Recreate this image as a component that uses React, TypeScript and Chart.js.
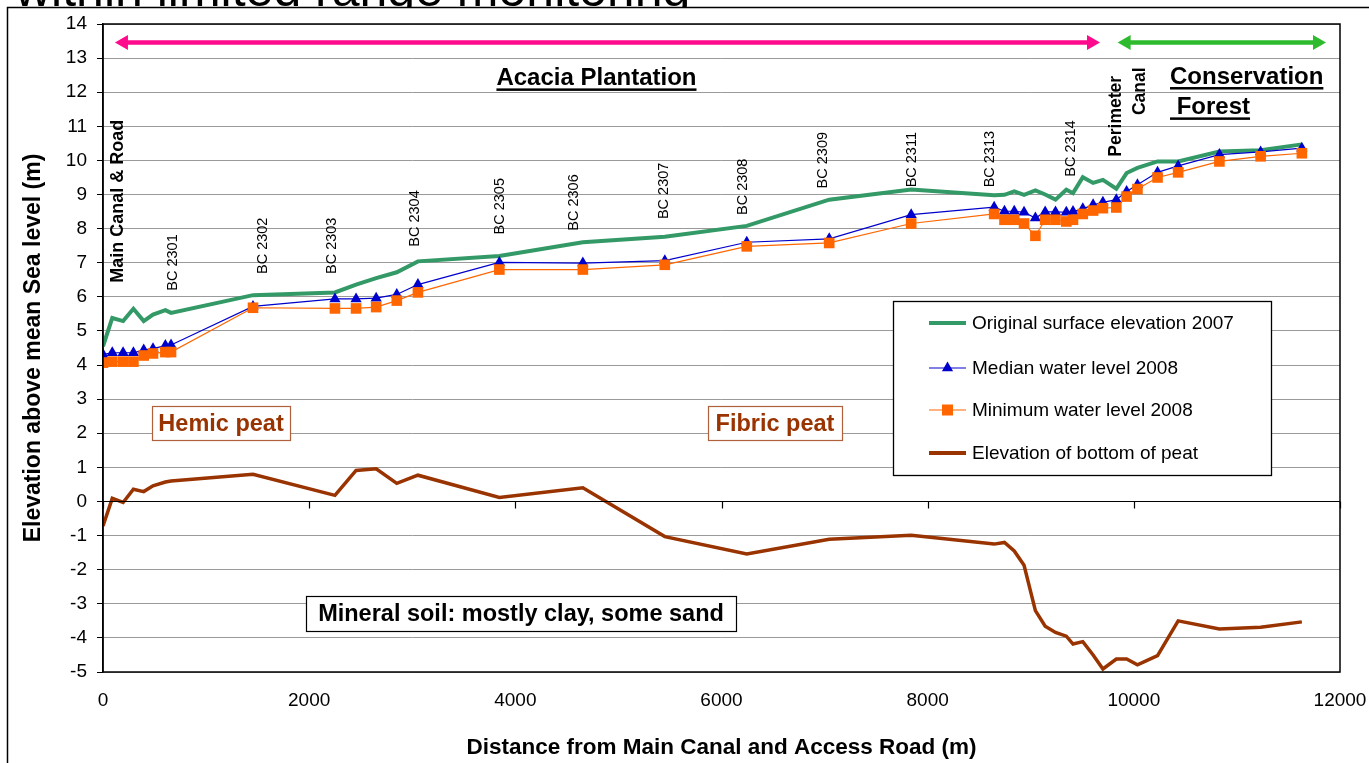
import React, { useEffect, useRef } from 'react';
import { Chart, registerables } from 'chart.js';

Chart.register(...registerables);

const FONT = '"Liberation Sans", Arial, Helvetica, sans-serif';

// Distance along transect (m)
const distance = [0, 90, 195, 295, 395, 485, 605, 660, 1455, 2250, 2455, 2650, 2850, 3055, 3845, 4655, 5450, 6245, 7045, 7840, 8645, 8745, 8840, 8935, 9045, 9140, 9240, 9345, 9410, 9505, 9605, 9700, 9830, 9930, 10035, 10230, 10430, 10830, 11230, 11630];
const surface2007 = [4.55, 5.38, 5.29, 5.65, 5.29, 5.48, 5.61, 5.53, 6.05, 6.13, 6.36, 6.55, 6.72, 7.04, 7.2, 7.6, 7.76, 8.08, 8.85, 9.15, 8.98, 8.99, 9.09, 8.99, 9.12, 9.0, 8.85, 9.14, 9.04, 9.51, 9.34, 9.43, 9.17, 9.63, 9.78, 9.97, 9.97, 10.26, 10.3, 10.47];
const medianWater2008 = [4.31, 4.36, 4.36, 4.36, 4.44, 4.48, 4.57, 4.59, 5.72, 5.94, 5.94, 5.96, 6.07, 6.36, 7.01, 6.99, 7.06, 7.6, 7.7, 8.41, 8.63, 8.51, 8.51, 8.48, 8.31, 8.49, 8.49, 8.48, 8.5, 8.58, 8.7, 8.77, 8.85, 9.09, 9.29, 9.65, 9.84, 10.17, 10.25, 10.36];
const minimumWater2008 = [4.07, 4.1, 4.1, 4.1, 4.28, 4.34, 4.38, 4.38, 5.68, 5.66, 5.66, 5.7, 5.89, 6.13, 6.8, 6.8, 6.94, 7.48, 7.58, 8.15, 8.43, 8.26, 8.26, 8.15, 7.79, 8.26, 8.26, 8.21, 8.26, 8.43, 8.53, 8.6, 8.62, 8.94, 9.16, 9.5, 9.65, 9.97, 10.12, 10.21];
const peatBottom = [-0.72, 0.09, -0.03, 0.36, 0.29, 0.46, 0.57, 0.6, 0.8, 0.18, 0.91, 0.96, 0.53, 0.77, 0.12, 0.4, -1.03, -1.54, -1.11, -0.99, -1.25, -1.2, -1.45, -1.87, -3.2, -3.66, -3.84, -3.95, -4.18, -4.11, -4.5, -4.91, -4.62, -4.62, -4.79, -4.52, -3.5, -3.74, -3.69, -3.53];

const seriesNames = ['Original surface elevation 2007', 'Median water level 2008', 'Minimum water level 2008', 'Elevation of bottom of peat'];

// Axis ranges
const yMin = -5;
const yMax = 14;
const xMax = 12000;

// Well labels
const wellLabels = ['BC 2301', 'BC 2302', 'BC 2303', 'BC 2304', 'BC 2305', 'BC 2306', 'BC 2307', 'BC 2308', 'BC 2309', 'BC 2311', 'BC 2313', 'BC 2314'];
const wellLabelX = [682, 1552, 2226, 3027, 3851, 4569, 5442, 6212, 6988, 7851, 8605, 9388];
const wellLabelY = [6.18, 6.67, 6.67, 7.47, 7.83, 7.94, 8.28, 8.4, 9.18, 9.21, 9.21, 9.52];

const COLORS = {
  green: '#339966',
  blue: '#0000cc',
  orange: '#ff6600',
  brown: '#993300',
  pink: '#ff0a8c',
  arrowGreen: '#2dbb2d',
};

function toPoints(ys: number[]) {
  return distance.map((d, i) => ({ x: d, y: ys[i] }));
}

function arrow(ctx: CanvasRenderingContext2D, x1: number, x2: number, y: number, color: string) {
  const head = 13;
  const half = 7.5;
  ctx.save();
  ctx.strokeStyle = color;
  ctx.fillStyle = color;
  ctx.lineWidth = 4.5;
  ctx.beginPath();
  ctx.moveTo(x1 + head - 1, y);
  ctx.lineTo(x2 - head + 1, y);
  ctx.stroke();
  ctx.beginPath();
  ctx.moveTo(x1, y);
  ctx.lineTo(x1 + head, y - half);
  ctx.lineTo(x1 + head, y + half);
  ctx.closePath();
  ctx.fill();
  ctx.beginPath();
  ctx.moveTo(x2, y);
  ctx.lineTo(x2 - head, y - half);
  ctx.lineTo(x2 - head, y + half);
  ctx.closePath();
  ctx.fill();
  ctx.restore();
}

function vText(ctx: CanvasRenderingContext2D, text: string, x: number, y: number, font: string) {
  ctx.save();
  ctx.translate(x, y);
  ctx.rotate(-Math.PI / 2);
  ctx.font = font;
  ctx.fillStyle = '#000';
  ctx.textAlign = 'left';
  ctx.textBaseline = 'middle';
  ctx.fillText(text, 0, 0);
  ctx.restore();
}

function underlined(ctx: CanvasRenderingContext2D, text: string, x: number, y: number, align: CanvasTextAlign) {
  ctx.save();
  ctx.font = `bold 24px ${FONT}`;
  ctx.fillStyle = '#000';
  ctx.textAlign = align;
  ctx.textBaseline = 'alphabetic';
  ctx.fillText(text, x, y);
  const w = ctx.measureText(text).width;
  const left = align === 'center' ? x - w / 2 : x;
  ctx.fillRect(left, y + 3, w, 2.5);
  ctx.restore();
}

function boxed(ctx: CanvasRenderingContext2D, text: string, cx: number, cy: number, w: number, h: number, color: string, border: string, size: number) {
  ctx.save();
  ctx.fillStyle = '#fff';
  ctx.fillRect(cx - w / 2, cy - h / 2, w, h);
  ctx.strokeStyle = border;
  ctx.lineWidth = 1.2;
  ctx.strokeRect(Math.round(cx - w / 2) + 0.5, Math.round(cy - h / 2) + 0.5, w, h);
  ctx.font = `bold ${size}px ${FONT}`;
  ctx.fillStyle = color;
  ctx.textAlign = 'center';
  ctx.textBaseline = 'middle';
  ctx.fillText(text, cx, cy + 1);
  ctx.restore();
}

const annotationPlugin = {
  id: 'peatAnnotations',
  beforeDraw(chart: any) {
    const ctx: CanvasRenderingContext2D = chart.ctx;
    ctx.save();
    ctx.fillStyle = '#fff';
    ctx.fillRect(0, 0, chart.width, chart.height);
    ctx.strokeStyle = '#000';
    ctx.lineWidth = 1.5;
    ctx.beginPath();
    ctx.moveTo(7.5, chart.height);
    ctx.lineTo(7.5, 7.5);
    ctx.lineTo(chart.width, 7.5);
    ctx.stroke();
    ctx.restore();
  },
  afterDatasetsDraw(chart: any) {
    const ctx: CanvasRenderingContext2D = chart.ctx;
    const xs = chart.scales.x;
    const ys = chart.scales.y;
    const X = (v: number) => xs.getPixelForValue(v);
    const Y = (v: number) => ys.getPixelForValue(v);
    const area = chart.chartArea;

    // x axis line at zero with tick marks
    ctx.save();
    ctx.strokeStyle = '#000';
    ctx.lineWidth = 1.2;
    ctx.beginPath();
    ctx.moveTo(area.left, Math.round(Y(0)) + 0.5);
    ctx.lineTo(area.right, Math.round(Y(0)) + 0.5);
    for (let v = 0; v <= xMax; v += 2000) {
      const px = Math.round(X(v)) + 0.5;
      ctx.moveTo(px, Y(0));
      ctx.lineTo(px, Y(0) + 7);
    }
    ctx.stroke();
    // plot frame
    ctx.lineWidth = 1.5;
    ctx.strokeRect(area.left, area.top, area.right - area.left, area.bottom - area.top);
    ctx.restore();

    // arrows
    arrow(ctx, X(116), X(9672), Y(13.46), COLORS.pink);
    arrow(ctx, X(9843), X(11864), Y(13.46), COLORS.arrowGreen);

    // region titles
    underlined(ctx, 'Acacia Plantation', X(4787), Y(12.2), 'center');
    underlined(ctx, 'Conservation', X(10351), Y(12.24), 'left');
    underlined(ctx, ' Forest', X(10351), Y(11.35), 'left');

    // vertical labels
    vText(ctx, 'Main Canal & Road', X(141), Y(6.41), `bold 18px ${FONT}`);
    vText(ctx, 'Perimeter', X(9824), Y(10.11), `bold 17.5px ${FONT}`);
    vText(ctx, 'Canal', X(10057), Y(11.33), `bold 17.5px ${FONT}`);
    wellLabels.forEach((t, i) => {
      vText(ctx, t, X(wellLabelX[i]), Y(wellLabelY[i]), `14.5px ${FONT}`);
    });

    // boxed labels
    boxed(ctx, 'Hemic peat', X(1145), Y(2.3), 138, 34, COLORS.brown, '#b0603a', 23.5);
    boxed(ctx, 'Fibric peat', X(6519), Y(2.3), 134, 34, COLORS.brown, '#b0603a', 23.5);
    boxed(ctx, 'Mineral soil: mostly clay, some sand', X(4055), Y(-3.28), 430, 35, '#000', '#000', 23.5);

    // legend
    const lx = Math.round(X(7664));
    const ly = Math.round(Y(5.88));
    ctx.save();
    ctx.fillStyle = '#fff';
    ctx.fillRect(lx, ly, 378, 174);
    ctx.strokeStyle = '#000';
    ctx.lineWidth = 1.3;
    ctx.strokeRect(lx + 0.5, ly + 0.5, 378, 174);
    const rows = [22, 67, 109, 152];
    const styles = [
      { color: COLORS.green, width: 4, marker: '' },
      { color: COLORS.blue, width: 1.2, marker: 'triangle' },
      { color: COLORS.orange, width: 1.2, marker: 'rect' },
      { color: COLORS.brown, width: 4, marker: '' },
    ];
    rows.forEach((dy, i) => {
      const y = ly + dy;
      const s = styles[i];
      ctx.strokeStyle = s.color;
      ctx.lineWidth = s.width;
      ctx.beginPath();
      ctx.moveTo(lx + 36, y);
      ctx.lineTo(lx + 73, y);
      ctx.stroke();
      const cx = lx + 54.5;
      ctx.fillStyle = s.color;
      if (s.marker === 'triangle') {
        ctx.beginPath();
        ctx.moveTo(cx, y - 6.5);
        ctx.lineTo(cx + 5.6, y + 3.3);
        ctx.lineTo(cx - 5.6, y + 3.3);
        ctx.closePath();
        ctx.fill();
      } else if (s.marker === 'rect') {
        ctx.fillRect(cx - 5.5, y - 5.5, 11, 11);
      }
      ctx.font = `19px ${FONT}`;
      ctx.fillStyle = '#000';
      ctx.textAlign = 'left';
      ctx.textBaseline = 'middle';
      ctx.fillText(seriesNames[i], lx + 79, y + 1);
    });
    ctx.restore();
  },
};

export default function App() {
  const ref = useRef<HTMLCanvasElement>(null);

  useEffect(() => {
    const canvas = ref.current;
    if (!canvas) return;
    const chart = new Chart(canvas, {
      type: 'line',
      data: {
        datasets: [
          {
            label: seriesNames[0],
            data: toPoints(surface2007),
            borderColor: COLORS.green,
            backgroundColor: COLORS.green,
            borderWidth: 4,
            pointRadius: 0,
            tension: 0,
            order: 4,
          },
          {
            label: seriesNames[1],
            data: toPoints(medianWater2008),
            borderColor: COLORS.blue,
            backgroundColor: COLORS.blue,
            borderWidth: 1.2,
            pointStyle: 'triangle',
            pointRadius: 6.5,
            pointBorderWidth: 0,
            pointBackgroundColor: COLORS.blue,
            tension: 0,
            order: 3,
          },
          {
            label: seriesNames[2],
            data: toPoints(minimumWater2008),
            borderColor: COLORS.orange,
            backgroundColor: COLORS.orange,
            borderWidth: 1.2,
            pointStyle: 'rect',
            pointRadius: 7.5,
            pointBorderWidth: 0,
            pointBackgroundColor: COLORS.orange,
            tension: 0,
            order: 2,
          },
          {
            label: seriesNames[3],
            data: toPoints(peatBottom),
            borderColor: COLORS.brown,
            backgroundColor: COLORS.brown,
            borderWidth: 3.5,
            pointRadius: 0,
            tension: 0,
            order: 1,
          },
        ],
      },
      options: {
        animation: false,
        responsive: false,
        maintainAspectRatio: false,
        layout: { padding: { left: 0, top: 24, right: 29, bottom: 0 } },
        plugins: {
          legend: { display: false },
          tooltip: { enabled: false },
        },
        scales: {
          x: {
            type: 'linear',
            min: 0,
            max: xMax,
            position: 'bottom',
            ticks: {
              stepSize: 2000,
              color: '#000',
              font: { family: FONT, size: 19 },
              padding: 17,
              maxRotation: 0,
              callback: (v: any) => String(v),
            },
            grid: { display: false, drawTicks: false },
            border: { display: false },
            title: {
              display: true,
              text: 'Distance from Main Canal and Access Road (m)',
              color: '#000',
              font: { family: FONT, size: 22.5, weight: 'bold', lineHeight: 1 },
              padding: { top: 0, bottom: 4 },
            },
            afterFit: (s: any) => {
              s.height = 91;
              s.paddingLeft = 0;
              s.paddingRight = 0;
            },
          },
          y: {
            type: 'linear',
            min: yMin,
            max: yMax,
            ticks: { stepSize: 1, color: '#000', font: { family: FONT, size: 19 }, padding: 10 },
            grid: { color: '#9a9a9a', lineWidth: 1, tickLength: 6, tickColor: '#000', drawTicks: true },
            border: { display: true, color: '#000', width: 1.5 },
            title: {
              display: true,
              text: 'Elevation above mean Sea level (m)',
              color: '#000',
              font: { family: FONT, size: 23, weight: 'bold', lineHeight: 1 },
              padding: { top: 22, bottom: 0 },
            },
            afterFit: (s: any) => {
              s.width = 103;
              s.paddingTop = 0;
              s.paddingBottom = 0;
            },
          },
        },
      },
      plugins: [annotationPlugin],
    } as any);
    return () => chart.destroy();
  }, []);

  return (
    <div style={{ position: 'fixed', left: 0, top: 0, width: 1369, height: 763, background: '#fff', overflow: 'hidden' }}>
      <canvas ref={ref} width={1369} height={763} style={{ display: 'block', width: 1369, height: 763 }} />
      <div style={{ position: 'absolute', left: 0, top: 0, width: 1369, height: 7, overflow: 'hidden' }}>
        <div
          style={{
            position: 'absolute',
            left: 15,
            top: -36,
            fontFamily: FONT,
            fontSize: 50,
            lineHeight: '50px',
            whiteSpace: 'nowrap',
            color: '#000',
          }}
        >
          within limited range monitoring
        </div>
      </div>
    </div>
  );
}
